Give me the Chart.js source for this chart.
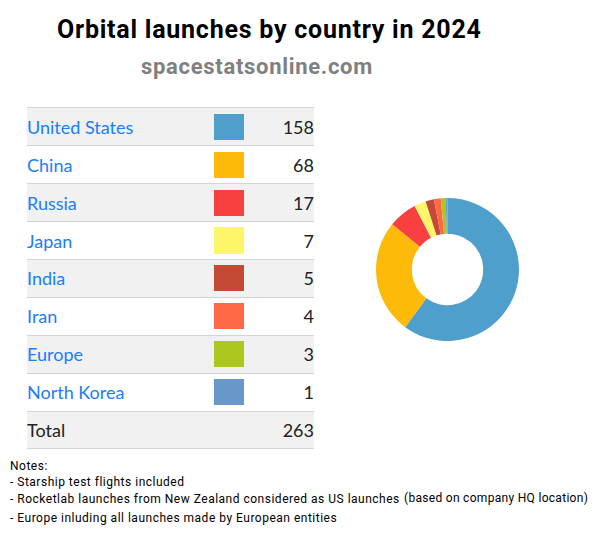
<!DOCTYPE html>
<html>
<head>
<meta charset="utf-8">
<script src="https://cdn.jsdelivr.net/npm/chart.js@4"></script>
<style>
body { margin: 0; background: #fff; width: 597px; height: 534px; position: relative; overflow: hidden; }
.abs { position: absolute; white-space: nowrap; }
#title { left: 57px; top: 13px; font: bold 25px Roboto, sans-serif; letter-spacing: 0.76px; color: #000; line-height: 34px; }
#site { left: 141px; top: 52px; font: bold 22px Roboto, sans-serif; letter-spacing: 0.7px; color: #808080; line-height: 30px; }
#rows { left: 27px; top: 107px; width: 287px; }
.row { position: relative; height: 37px; border-top: 1px solid #d4d4d4; font: 18px Lato, sans-serif; line-height: 37px; }
.row:nth-child(odd) { background: #f1f1f1; }
.row:last-child { border-bottom: 1px solid #d4d4d4; height: 36px; }
.name { position: absolute; left: 0; color: #1a7dfb; }
.total .name { color: #222; }
.swatch { position: absolute; left: 187px; top: 5px; width: 30px; height: 26px; }
.row:nth-child(-n+3) .swatch { top: 6px; }
.row:nth-child(4) .swatch { height: 27px; }
.row:nth-child(-n+4) .name, .row:nth-child(-n+4) .val { top: 1px; }
.val { position: absolute; right: 0; color: #222; }
.note { left: 10px; font: 400 12px Roboto, sans-serif; letter-spacing: 0.5px; color: #000; line-height: 16px; }
#chart { position: absolute; left: 347px; top: 169px; }
</style>
</head>
<body>
<div class="abs" id="title">Orbital launches by country in 2024</div>
<div class="abs" id="site">spacestatsonline.com</div>
<div class="abs" id="rows"></div>
<canvas id="chart" width="201" height="201"></canvas>
<div class="abs note" style="top:458px">Notes:</div>
<div class="abs note" style="top:474px">- Starship test flights included</div>
<div class="abs note" style="top:491px">- Rocketlab launches from New Zealand considered as US launches</div>
<div class="abs note" style="top:490px;left:404px;letter-spacing:0.3px">(based on company HQ location)</div>
<div class="abs note" style="top:510px">- Europe inluding all launches made by European entities</div>
<script>
const countries = ['United States', 'China', 'Russia', 'Japan', 'India', 'Iran', 'Europe', 'North Korea'];
const launches = [158, 68, 17, 7, 5, 4, 3, 1];
const colors = ['#4f9fcc', '#fdba08', '#f94040', '#fdf56a', '#c44a36', '#ff6847', '#adc71f', '#6897ca'];
const totalLabel = 'Total';
const totalValue = 263;

const rows = document.getElementById('rows');
countries.forEach((name, i) => {
    rows.insertAdjacentHTML('beforeend',
        `<div class="row"><span class="name">${name}</span>` +
        `<span class="swatch" style="background:${colors[i]}"></span>` +
        `<span class="val">${launches[i]}</span></div>`);
});
rows.insertAdjacentHTML('beforeend',
    `<div class="row total"><span class="name">${totalLabel}</span><span class="val">${totalValue}</span></div>`);

new Chart(document.getElementById('chart'), {
    type: 'doughnut',
    data: {
        labels: countries,
        datasets: [{
            data: launches,
            backgroundColor: colors,
            borderWidth: 0
        }]
    },
    options: {
        responsive: false,
        animation: false,
        devicePixelRatio: 1,
        radius: 71.5,
        cutout: '50%',
        plugins: {
            legend: { display: false },
            tooltip: { enabled: false }
        }
    }
});
</script>
</body>
</html>
